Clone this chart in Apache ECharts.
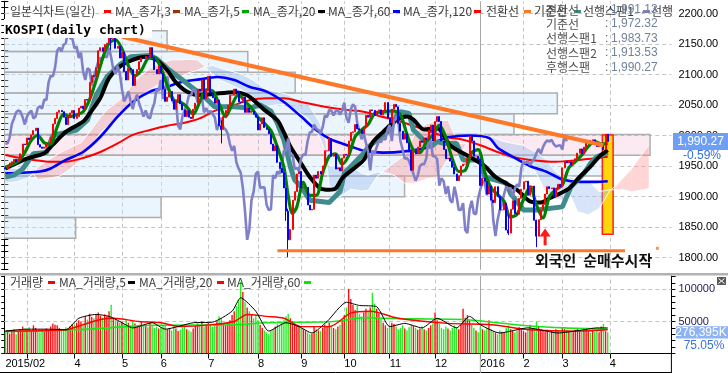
<!DOCTYPE html>
<html>
<head>
<meta charset="utf-8">
<title>KOSPI daily chart</title>
<script src="https://cdn.jsdelivr.net/npm/echarts@6.0.0/dist/echarts.min.js"></script>
<style>
html,body{margin:0;padding:0;background:#fff;overflow:hidden}
#chart{width:728px;height:373px}
</style>
</head>
<body>
<div id="chart"></div>
<script>
// ================= DATA =================
// daily closes, trading days from 2015-02-11 to 2016-03-31
const closeFeb15 = [1945,1950,1955,1957,1961,1957,1961,1970,1986,1985];
const closeMar15 = [1996,1993,2001,2008,2012,1985,1981,1979,1981,1987,1987,1997,2019,2028,2038,2041,2039,2030,2018,2031,2037,2041];
const closeApr15 = [2028,2031,2045,2048,2044,2059,2058,2087,2098,2097,2111,2139,2144,2138,2149,2151,2173,2159,2159,2143,2146,2127];
const closeMay15 = [2136,2105,2091,2110,2108,2082,2098,2108,2121,2127,2126,2130,2128,2144,2128,2108,2101,2114];
const closeJun15 = [2102,2076,2056,2063,2072,2057,2043,2058,2067,2052,2042,2031,2041,2030,2028,2043,2053,2076,2073,2091,2060,2074];
const closeJul15 = [2097,2070,2062,2053,2058,2016,2010,2031,2041,2050,2066,2066,2076,2072,2055,2054,2063,2038,2045,2038,2040,2035,2030];
const closeAug15 = [2009,2019,2029,2013,2010,2003,1986,1975,1983,1956,1946,1939,1914,1876,1829,1846,1894,1908,1937,1941];
const closeSep15 = [1914,1915,1915,1886,1878,1879,1935,1930,1941,1937,1950,1975,1975,1995,1966,1969,1945,1947,1942,1963];
const closeOct15 = [1969,1968,1991,2005,2006,2018,2011,2009,2003,2014,2033,2030,2042,2041,2033,2040,2042,2034,2041,2054,2029];
const closeNov15 = [2021,2043,2051,2047,2020,2007,1994,2003,1988,1973,1943,1975,1970,1981,1991,1989,1996,1993,2009,2017,1991];
const closeDec15 = [2023,2031,2023,1991,1977,1962,1963,1958,1948,1937,1926,1934,1950,1953,1953,1963,1999,1991,1966,1966,1961];
const closeJan16 = [1918,1930,1925,1904,1917,1894,1890,1916,1900,1878,1878,1889,1845,1840,1879,1893,1872,1871,1897,1912];
const closeFeb16 = [1924,1925,1902,1916,1917,1861,1835,1862,1878,1887,1904,1916,1913,1914,1900,1913,1920,1916];
const closeMar16 = [1947,1958,1955,1957,1952,1957,1962,1971,1978,1970,1981,1988,1992,1990,1993,1986,1982,1983,1984,1977,2002,1990.27];
const FIRST_OPEN = 1947;            // open of the first candle; later opens taken as the previous close
// visible shadows: [day index, low, high]
const wicks = [[49,2140,2189.5],[100,1987,2025],[130,1860,1914],[131,1800.75,1880],[233,1837,1870],[246,1817,1862]];

// volume (units of the volume axis)
const volFeb15 = [33000,36000,31000,35000,38000,30000,34000,37000,42000,39000];
const volMar15 = [38000,41000,36000,44000,40000,35000,33000,37000,34000,39000,36000,42000,47000,45000,44000,40000,38000,36000,41000,39000,43000,46000];
const volApr15 = [45000,48000,52000,50000,47000,58000,53000,62000,57000,55000,60000,64000,59000,56000,61000,58000,66000,76000,54000,52000,50000,48000];
const volMay15 = [50000,46000,52000,48000,44000,51000,47000,42000,45000,49000,43000,46000,41000,48000,44000,40000,42000,39000];
const volJun15 = [41000,45000,43000,38000,40000,36000,42000,39000,35000,37000,41000,44000,38000,36000,34000,39000,43000,47000,45000,50000,42000,46000];
const volJul15 = [48000,44000,42000,45000,50000,58000,55000,47000,44000,48000,52000,60000,66000,74000,84000,112000,96000,80000,72000,66000,60000,55000,58000];
const volAug15 = [52000,45000,40000,36000,33000,30000,35000,38000,42000,46000,44000,48000,52000,58000,62000,55000,50000,47000,45000,42000];
const volSep15 = [40000,38000,36000,33000,30000,31000,42000,38000,36000,35000,40000,45000,43000,48000,44000,40000,38000,42000,45000,52000];
const volOct15 = [60000,72000,101000,85000,76000,68000,74000,62000,58000,64000,70000,66000,72000,95000,78000,70000,62000,55000,48000,44000,40000];
const volNov15 = [44000,48000,46000,42000,38000,40000,44000,39000,36000,41000,45000,43000,40000,37000,39000,42000,38000,36000,40000,44000,47000];
const volDec15 = [64000,52000,46000,40000,38000,42000,39000,36000,40000,44000,41000,38000,45000,70000,56000,60000,52000,45000,40000,36000,33000];
const volJan16 = [42000,38000,36000,40000,52000,38000,35000,33000,30000,36000,34000,32000,40000,44000,38000,35000,33000,36000,41000,38000];
const volFeb16 = [35000,33000,37000,45000,39000,40000,50000,42000,38000,36000,34000,37000,32000,35000,33000,38000,36000,34000];
const volMar16 = [40000,38000,36000,34000,33000,35000,37000,39000,36000,34000,40000,38000,35000,32000,37000,34000,36000,33000,42000,46000,35000,33000];

// indicator lines: [day index, value]
const maShort = [[0,1948],[3,1952],[6,1958],[9,1972],[12,1992],[15,2000],[18,1988],[21,1986],[24,2014],[27,2035],[30,2031],[33,2034],[36,2039],[39,2059],[42,2090],[45,2126],[48,2151],[51,2157],[54,2142],[57,2114],[60,2098],[63,2107],[66,2126],[69,2128],[72,2111],[75,2082],[78,2058],[81,2055],[84,2047],[87,2035],[90,2055],[93,2075],[96,2073],[99,2052],[102,2031],[105,2051],[108,2067],[111,2056],[114,2045],[117,2030],[120,2020],[123,2008],[126,1981],[129,1948],[131,1901],[133,1872],[135,1883],[138,1923],[141,1902],[144,1902],[147,1939],[150,1966],[153,1970],[156,1953],[159,1967],[162,1998],[165,2009],[168,2018],[171,2036],[174,2038],[177,2040],[180,2040],[183,2034],[186,2002],[189,1976],[192,1972],[195,1990],[198,2001],[201,2017],[204,1997],[207,1962],[210,1941],[213,1943],[216,1972],[219,1977],[222,1940],[225,1914],[228,1903],[231,1892],[234,1866],[237,1871],[240,1895],[243,1916],[246,1886],[249,1865],[252,1900],[255,1911],[258,1919],[261,1947],[264,1957],[267,1968],[270,1982],[273,1990],[276,1986],[279,1987]];
const maMid = [[0,1946],[10,1962],[18,1971],[22,1985],[28,2006],[36,2023],[39,2036],[44,2062],[48,2094],[53,2113],[59,2124],[65,2129],[70,2124],[75,2107],[79,2087],[84,2072],[90,2066],[96,2068],[106,2071],[112,2066],[115,2058],[120,2042],[126,2025],[129,2005],[132,1982],[137,1954],[141,1932],[146,1913],[150,1911],[153,1913],[156,1930],[160,1942],[166,1960],[170,1988],[175,2006],[181,2025],[186,2031],[189,2026],[194,2010],[200,2012],[206,1984],[215,1965],[222,1950],[227,1932],[237,1911],[243,1892],[248,1890],[252,1897],[261,1913],[266,1932],[271,1949],[275,1965],[279,1976]];
const baseLine = [[0,1932],[4,1935],[8,1945],[13,1970],[19,1972],[22,2000],[33,2009],[38,2025],[42,2066],[47,2096],[53,2116],[58,2129],[67,2131],[70,2126],[75,2110],[81,2094],[86,2080],[92,2064],[97,2047],[106,2047],[113,2045],[118,2050],[123,2040],[126,2020],[129,1993],[132,1949],[134,1927],[137,1916],[141,1894],[150,1890],[155,1908],[157,1938],[166,1971],[168,1981],[178,2009],[181,2031],[183,2039],[187,2036],[189,2009],[197,1981],[200,1990],[203,1987],[209,1987],[212,1960],[220,1960],[222,1932],[232,1922],[234,1905],[240,1878],[246,1878],[258,1883],[262,1916],[268,1938],[271,1954],[274,1965],[279,1972]];
const ma60 = [[0,1938],[8,1939],[16,1941],[21,1946],[28,1960],[36,1973],[44,1998],[52,2031],[59,2055],[67,2072],[75,2080],[82,2088],[90,2092],[98,2096],[106,2091],[113,2080],[121,2072],[129,2055],[137,2031],[144,2009],[150,1995],[155,1988],[160,1982],[166,1975],[175,1972],[185,1974],[195,1980],[200,1990],[205,1997],[215,2000],[224,1996],[228,1980],[235,1965],[243,1950],[251,1940],[258,1928],[266,1924],[274,1924],[279,1925]];
const ma120 = [[0,1968],[7,1963],[13,1960],[21,1957],[28,1957],[36,1963],[44,1973],[52,1987],[59,2001],[67,2009],[75,2016],[82,2020],[90,2028],[98,2042],[106,2050],[113,2058],[121,2061],[129,2061],[137,2055],[144,2050],[150,2046],[158,2042],[166,2039],[174,2031],[181,2025],[193,2011],[204,1998],[212,1993],[220,1984],[228,1973],[235,1965],[243,1960],[255,1957],[266,1960],[279,1965]];
const LAG = 19;   // displacement of the lagging span (후행스팬) seen in the picture

// cloud (선행스팬1 / 선행스팬2), plotted position index
const cloudIdx = [0,5,10,13,15,20,25,30,35,40,44,48,53,58,62,67,72,77,81,85,89,92,96,100,105,110,115,120,125,130,135,140,145,148,150,155,160,165,168,172,176,180,185,190,195,200,205,210,215,220,223,226,230,235,240,245,250,255,258,262,265,270,275,280,283,286,290,294,298];
const span1 = [1922,1924,1930,1937,1948,1960,1971,1980,1988,2010,2030,2045,2058,2080,2096,2110,2119,2124,2124,2125,2124,2115,2100,2090,2082,2074,2060,2047,2050,2051,2040,2029,2002,1976,1918,1899,1912,1909,1910,1932,1944,1955,1968,2005,2019,2024,2025,1986,1987,2005,1997,1985,1965,1960,1962,1944,1910,1896,1894,1900,1875,1870,1880,1910,1918,1930,1945,1965,1984];
const span2 = [1948,1946,1942,1937,1927,1930,1933,1945,1960,1985,2004,2017,2030,2047,2063,2075,2086,2092,2096,2103,2107,2112,2115,2110,2105,2100,2090,2077,2072,2068,2060,2053,2025,2002,1950,1950,1950,1938,1935,1940,1939,1935,1922,1922,1929,1932,1962,1966,1994,1999,1999,1997,1991,1987,1984,1974,1962,1940,1932,1932,1926,1926,1908,1911,1911,1911,1908,1910,1913];

// volume-by-price profile (price band edges and relative volume per band)
const profileEdges = [1831.5,1865.5,1899.5,1933.6,1967.6,2001.7,2035.7,2069.8,2103.8,2137.8,2171.9];
const profileVol = [10.7,23.5,60,90,96.8,76.4,82.9,43.6,36.5,24.4];
const profileCurrentBand = 4;

// volume moving averages
const volMA5 = [[0,35000],[10,38000],[20,38000],[28,37000],[34,55000],[42,61000],[48,58000],[53,50000],[59,40000],[68,48000],[74,38000],[87,48000],[96,49000],[105,66000],[109,87000],[116,66000],[122,35000],[130,48000],[136,42000],[142,32000],[149,50000],[158,80000],[164,75000],[172,73000],[178,42000],[185,47000],[193,40000],[200,55000],[209,40000],[215,58000],[220,45000],[229,32000],[242,40000],[256,32000],[266,36000],[274,40000],[279,40000]];
const volMA20 = [[0,35000],[28,37000],[36,45000],[44,53000],[50,55000],[62,50000],[72,48000],[81,42000],[96,45000],[106,50000],[112,61000],[121,58000],[129,55000],[137,42000],[150,42000],[160,63000],[169,66000],[182,55000],[205,47000],[225,45000],[243,37000],[266,35000],[279,37000]];
const volMA60 = [[0,34000],[32,37000],[48,40000],[67,44000],[106,45000],[121,48000],[152,50000],[166,55700],[189,54000],[212,53000],[228,48000],[243,43000],[259,40000],[279,38000]];

// annotations (data coordinates)
const trendDown = [[54,2162],[277,1984]];
const supportLine = [[126,1811],[287,1811]];
const supportDot = [[302,1815]];
const buyArrow = [[250,1820,1847.5]];
const highlightBox = [[277,281,1838,2001]];

// axis ticks / labels
const N_SLOTS = 309;
const monthTicks = [10,32,54,72,94,117,137,157,178,199,220,240,258,280];
const yearTick = 220;
const monthLabels = {0:'2015/02',32:'4',54:'5',72:'6',94:'7',117:'8',137:'9',157:'10',178:'11',199:'12',220:'2016',240:'2',258:'3',280:'4'};
const priceGridValues = [1800,1850,1900,1950,2000,2050,2100,2150,2200];
const volGridValues = [50000,100000];
const infoRows = [['전환선','1,991.13'],['기준선','1,972.32'],['선행스팬1','1,983.73'],['선행스팬2','1,913.53'],['후행스팬','1,990.27']];
const lastChangeText = '-0.59%';
const lastVolText = '276,395K';
const lastVolRatioText = '75.05%';

// ================= BUILD =================
const closes = [].concat(closeFeb15,closeMar15,closeApr15,closeMay15,closeJun15,closeJul15,closeAug15,closeSep15,closeOct15,closeNov15,closeDec15,closeJan16,closeFeb16,closeMar16);
const volumes = [].concat(volFeb15,volMar15,volApr15,volMay15,volJun15,volJul15,volAug15,volSep15,volOct15,volNov15,volDec15,volJan16,volFeb16,volMar16);
const cats = Array.from({length:N_SLOTS},(_,i)=>String(i));
const opens = closes.map((c,i)=> i===0 ? FIRST_OPEN : closes[i-1]);
const candles = closes.map((c,i)=>{
  const o = opens[i];
  let lo = Math.min(o,c), hi = Math.max(o,c);
  wicks.forEach(w=>{ if(w[0]===i){ lo=Math.min(lo,w[1]); hi=Math.max(hi,w[2]); } });
  return [o,c,lo,hi];
});
const volItems = volumes.map((v,i)=>({value:v,itemStyle:{color: closes[i]>=opens[i] ? '#ff1010' : '#22ee22'}}));
const lagData = closes.slice(LAG).map((c,k)=>[k,c]);
const cloudSegs = cloudIdx.slice(0,-1).map((j,k)=>[j,span1[k],span2[k],cloudIdx[k+1],span1[k+1],span2[k+1]]);
const span1Line = cloudIdx.map((j,k)=>[j,span1[k]]);
const span2Line = cloudIdx.map((j,k)=>[j,span2[k]]);
const profileData = profileVol.map((v,k)=>[v,profileEdges[k],profileEdges[k+1],k===profileCurrentBand?1:0]);
const tickSet = new Set(monthTicks);

const chart = echarts.init(document.getElementById('chart'), null, {renderer:'canvas'});
const GRID_COLOR = '#c4c4c4';
const vLines = monthTicks.map(i=>({xAxis:cats[i], lineStyle: i===yearTick ? {type:'solid',color:'#a8a8a8',width:1} : {type:[4,3],color:GRID_COLOR,width:1}}));

function lineSeries(data, color, width, z, smooth){
  return {type:'line', xAxisIndex:0, yAxisIndex:0, data, showSymbol:false, symbol:'none', smooth: smooth===undefined?0.3:smooth,
    lineStyle:{color, width}, z, silent:true, animation:false, clip:true};
}

const option = {
  animation:false,
  backgroundColor:'#ffffff',
  grid:[
    {left:4.3, top:1.3, width:667.1, height:268.4, containLabel:false, outerBoundsMode:'none'},
    {left:4.3, top:276, width:667.1, height:77.5, containLabel:false, outerBoundsMode:'none'}
  ],
  xAxis:[
    {type:'category', gridIndex:0, data:cats, boundaryGap:true, axisLine:{show:false}, axisTick:{show:false}, axisLabel:{show:false}, splitLine:{show:false}},
    {type:'category', gridIndex:1, data:cats, boundaryGap:true,
      axisLine:{show:true, lineStyle:{color:'#000', width:1}},
      axisTick:{show:true, interval:(i)=>tickSet.has(i), alignWithLabel:true, length:5, lineStyle:{color:'#000'}},
      axisLabel:{show:true, interval:(i)=>monthLabels[i]!==undefined, formatter:(v,i)=>monthLabels[i]||'', align:'left', margin:5,
        fontSize:11, fontFamily:'Liberation Sans', color:'#000', hideOverlap:false},
      splitLine:{show:false}},
    {type:'value', gridIndex:0, min:0, max:100, show:false}
  ],
  yAxis:[
    {type:'value', gridIndex:0, position:'right', min:1780, max:2220, interval:10, scale:false,
      axisLine:{show:true, lineStyle:{color:'#000', width:1}}, axisTick:{show:true, length:4, lineStyle:{color:'#000'}},
      axisLabel:{show:true, margin:7, fontSize:11, fontFamily:'Liberation Sans', color:'#000', formatter:(v)=> (Math.round(v)%50===0 ? v.toFixed(2) : ''), hideOverlap:false},
      splitLine:{show:false}},
    {type:'value', gridIndex:0, position:'left', min:1780, max:2220, interval:10,
      axisLine:{show:true, lineStyle:{color:'#000', width:1}}, axisTick:{show:true, length:3, lineStyle:{color:'#000'}},
      axisLabel:{show:false}, splitLine:{show:false}},
    {type:'value', gridIndex:1, position:'right', min:0, max:121000, interval:10000,
      axisLine:{show:true, lineStyle:{color:'#000', width:1}}, axisTick:{show:true, length:4, lineStyle:{color:'#000'}},
      axisLabel:{show:true, margin:7, fontSize:11, fontFamily:'Liberation Sans', color:'#221a55', formatter:(v)=> (v===50000||v===100000 ? String(v) : ''), hideOverlap:false},
      splitLine:{show:false}},
    {type:'value', gridIndex:1, position:'left', min:0, max:121000, interval:10000,
      axisLine:{show:true, lineStyle:{color:'#000', width:1}}, axisTick:{show:true, length:3, lineStyle:{color:'#000'}},
      axisLabel:{show:false}, splitLine:{show:false}}
  ],
  series:[
    // volume-by-price profile
    {type:'custom', xAxisIndex:2, yAxisIndex:0, z:10, silent:true, clip:true, data:profileData, encode:{x:0, y:[1,2]},
      renderItem:(params, api)=>{
        const v=api.value(0), lo=api.value(1), hi=api.value(2), cur=api.value(3);
        const p0=api.coord([0,hi]), p1=api.coord([v,lo]);
        return {type:'rect', shape:{x:p0[0], y:p0[1], width:p1[0]-p0[0], height:p1[1]-p0[1]},
          style:{fill: cur ? 'rgba(240,150,190,0.2)' : 'rgba(200,230,250,0.38)', stroke:'#aeaeae', lineWidth:1.5}};
      }},
    // highlight box
    {type:'custom', xAxisIndex:0, yAxisIndex:0, z:11, silent:true, clip:true, data:highlightBox, encode:{x:[0,1], y:[2,3]},
      renderItem:(params, api)=>{
        const a=api.coord([api.value(0), api.value(3)]), b=api.coord([api.value(1), api.value(2)]);
        const w=api.size([1,0])[0];
        return {type:'rect', shape:{x:a[0]-w/2, y:a[1], width:b[0]-a[0]+w, height:b[1]-a[1]}, style:{fill:'#ffd60a', stroke:'#ff2020', lineWidth:1.5}};
      }},
    // cloud
    {type:'custom', xAxisIndex:0, yAxisIndex:0, z:12, silent:true, clip:true, data:cloudSegs, encode:{x:[0,3], y:[1,2,4,5]},
      renderItem:(params, api)=>{
        const j0=api.value(0), a0=api.value(1), b0=api.value(2), j1=api.value(3), a1=api.value(4), b1=api.value(5);
        const pa0=api.coord([j0,a0]), pb0=api.coord([j0,b0]), pa1=api.coord([j1,a1]), pb1=api.coord([j1,b1]);
        const PINK='rgba(255,140,140,0.36)', BLUE='rgba(150,185,240,0.38)';
        const d0=a0-b0, d1=a1-b1, ch=[];
        if (d0*d1>=0){
          ch.push({type:'polygon', shape:{points:[pa0,pa1,pb1,pb0]}, style:{fill:(d0+d1)>=0?PINK:BLUE}});
        } else {
          const t=d0/(d0-d1);
          const m=[pa0[0]+(pa1[0]-pa0[0])*t, pa0[1]+(pa1[1]-pa0[1])*t];
          ch.push({type:'polygon', shape:{points:[pa0,m,pb0]}, style:{fill:d0>0?PINK:BLUE}});
          ch.push({type:'polygon', shape:{points:[m,pa1,pb1]}, style:{fill:d1>0?PINK:BLUE}});
        }
        return {type:'group', children:ch};
      }},
    lineSeries(span1Line, 'rgba(255,255,255,0.9)', 1, 13, false),
    lineSeries(span2Line, 'rgba(255,255,255,0.9)', 1, 13, false),
    lineSeries(ma120, '#ff0000', 2, 14),
    lineSeries(ma60, '#0000ff', 2.6, 15),
    lineSeries(baseLine, '#408c8c', 5, 16, false),
    lineSeries(maMid, '#000000', 4, 17),
    Object.assign(lineSeries(lagData, '#8080c8', 2.6, 18, false), {
      markLine:{silent:true, z:1, symbol:['none','none'], label:{show:false}, emphasis:{disabled:true}, animation:false,
        data: priceGridValues.map(v=>({yAxis:v, lineStyle:{type:[4,3], color:GRID_COLOR, width:1}})).concat(vLines)}
    }),
    lineSeries(maShort, '#008000', 3.2, 19),
    {type:'candlestick', xAxisIndex:0, yAxisIndex:0, data:candles, barWidth:1.5, z:20, silent:true, clip:true,
      itemStyle:{color:'#ff0000', color0:'#0000ff', borderColor:'#ff0000', borderColor0:'#0000ff', borderWidth:1}},
    lineSeries(trendDown, '#ff7828', 4, 21, false),
    lineSeries(supportLine, '#ff7828', 3, 21, false),
    {type:'scatter', xAxisIndex:0, yAxisIndex:0, data:supportDot, symbol:'rect', symbolSize:3, itemStyle:{color:'#ff7828'}, z:21, silent:true},
    {type:'custom', xAxisIndex:0, yAxisIndex:0, z:22, silent:true, clip:false, data:buyArrow, encode:{x:0, y:[1,2]},
      renderItem:(params, api)=>{
        const pb=api.coord([api.value(0), api.value(1)]), pt=api.coord([api.value(0), api.value(2)]);
        const x=pt[0], head=8;
        return {type:'group', children:[
          {type:'rect', shape:{x:x-1.5, y:pt[1]+head-0.5, width:3, height:pb[1]-pt[1]-head+0.5}, style:{fill:'#ff1a1a'}},
          {type:'polygon', shape:{points:[[x,pt[1]],[x-5.5,pt[1]+head],[x+5.5,pt[1]+head]]}, style:{fill:'#ff1a1a'}}
        ]};
      }},
    // volume pane
    {type:'bar', xAxisIndex:1, yAxisIndex:2, data:volItems, barWidth:1.4, z:10, silent:true, animation:false,
      markLine:{silent:true, z:1, symbol:['none','none'], label:{show:false}, emphasis:{disabled:true}, animation:false,
        data: volGridValues.map(v=>({yAxis:v, lineStyle:{type:[4,3], color:GRID_COLOR, width:1}})).concat(vLines)}},
    {type:'line', xAxisIndex:1, yAxisIndex:2, data:volMA60, showSymbol:false, symbol:'none', smooth:0.3, lineStyle:{color:'#19e619', width:1.6}, z:11, silent:true},
    {type:'line', xAxisIndex:1, yAxisIndex:2, data:volMA20, showSymbol:false, symbol:'none', smooth:0.3, lineStyle:{color:'#ff0000', width:1.4}, z:12, silent:true},
    {type:'line', xAxisIndex:1, yAxisIndex:2, data:volMA5, showSymbol:false, symbol:'none', smooth:0.2, lineStyle:{color:'#000000', width:1}, z:13, silent:true}
  ]
};
chart.setOption(option);

// ================= TEXT / DECORATION =================
const G=[];
const KR='"Noto Sans CJK KR", "Noto Sans", sans-serif';
const T=(x,y,text,font,fill,align,z)=>G.push({type:'text', z:z||100, silent:true, style:{x,y,text,font,fill,align:align||'left',verticalAlign:'middle'}});
const R=(x,y,w,h,fill,stroke,lw,z)=>G.push({type:'rect', z:z||100, silent:true, shape:{x,y,width:w,height:h}, style:{fill, stroke:stroke||null, lineWidth:lw||0}});
const L=(x1,y1,x2,y2,stroke,lw,z)=>G.push({type:'line', z:z||100, silent:true, shape:{x1,y1,x2,y2}, style:{stroke, lineWidth:lw||1}});

// top legend
const legendTop=[['t',10,'일본식차트(일간)'],['m',104,'#ff0000'],['t',115,'MA_종가,3'],['m',173,'#993300'],['t',184,'MA_종가,5'],['m',242,'#00a000'],['t',253,'MA_종가,20'],['m',318,'#000000'],['t',328,'MA_종가,60'],['m',393,'#0000ff'],['t',403,'MA_종가,120'],['m',474,'#ff0000'],['t',486,'전환선'],['m',524,'#ff7828'],['t',534,'기준선'],['m',574,'#408c8c'],['t',583,'선행스팬1'],['m',643,'#8080c8'],['t',651,'선행']];
legendTop.forEach(it=>{ if(it[0]==='t') T(it[1],11.5,it[2],'12px '+KR,'#3c3c3c'); else R(it[1],10,7,3,it[2]); });
// info rows
const infoY=[10,24,38.5,53,67.5];
infoRows.forEach((r,k)=>{ T(546,infoY[k],r[0],'12px '+KR,'#505050','left',101); T(605,infoY[k],':','12px "Liberation Sans"','#606060','left',101); T(611,infoY[k],r[1],'12px "Liberation Sans"','#71829a','left',101); });
// title
R(4,19,148,19,'#ffffff',null,0,99);
T(5,30.5,'KOSPI(daily chart)','bold 13px "DejaVu Sans Mono"','#000000','left',101);
// volume legend
const legendVol=[['t',10,'거래량'],['m',48,'#ff0000'],['t',59,'MA_거래량,5'],['m',128,'#000000'],['t',139,'MA_거래량,20'],['m',217,'#ff0000'],['t',227,'MA_거래량,60'],['m',304,'#00ee00']];
legendVol.forEach(it=>{ if(it[0]==='t') T(it[1],282,it[2],'12px '+KR,'#3c3c3c'); else R(it[1],281,7,3,it[2]); });
// pane separator & frame
R(0,273,728,2.6,'#b2b2b2');
L(0,372.5,671.4,372.5,'#000',1);
L(671.4,353.5,671.4,373,'#000',1);
L(4.3+220.5*667.1/N_SLOTS,353.5,4.3+220.5*667.1/N_SLOTS,373,'#a8a8a8',1);
// close icon of volume pane
R(717,277,9,8,'#5a5a5a'); L(718.5,278.5,724.5,283.5,'#fff',1); L(724.5,278.5,718.5,283.5,'#fff',1);
// annotation text
T(535,260,'외국인  순매수시작','bold 15px '+KR,'#111111');
// current price / volume labels placed through the axes
const lastClose=closes[closes.length-1], lastVol=volumes[volumes.length-1];
const py=chart.convertToPixel({yAxisIndex:0}, lastClose);
const vy=chart.convertToPixel({yAxisIndex:2}, lastVol);
R(673,py-8.5,55,17,'#6e9ff7');
T(700.5,py+0.5,lastClose.toLocaleString('en-US',{minimumFractionDigits:2}),'12px "Liberation Sans"','#ffffff','center');
T(702,py+14.5,lastChangeText,'12px "Liberation Sans"','#2f6fe0','center');
R(676,vy-6.2,52,12.4,'#8cb3f5');
T(701,vy,lastVolText,'12px "Liberation Sans"','#ffffff','center');
T(704,vy+13.5,lastVolRatioText,'12px "Liberation Sans"','#3a70e0','center');

chart.setOption({graphic:{elements:G}});
</script>
</body>
</html>
